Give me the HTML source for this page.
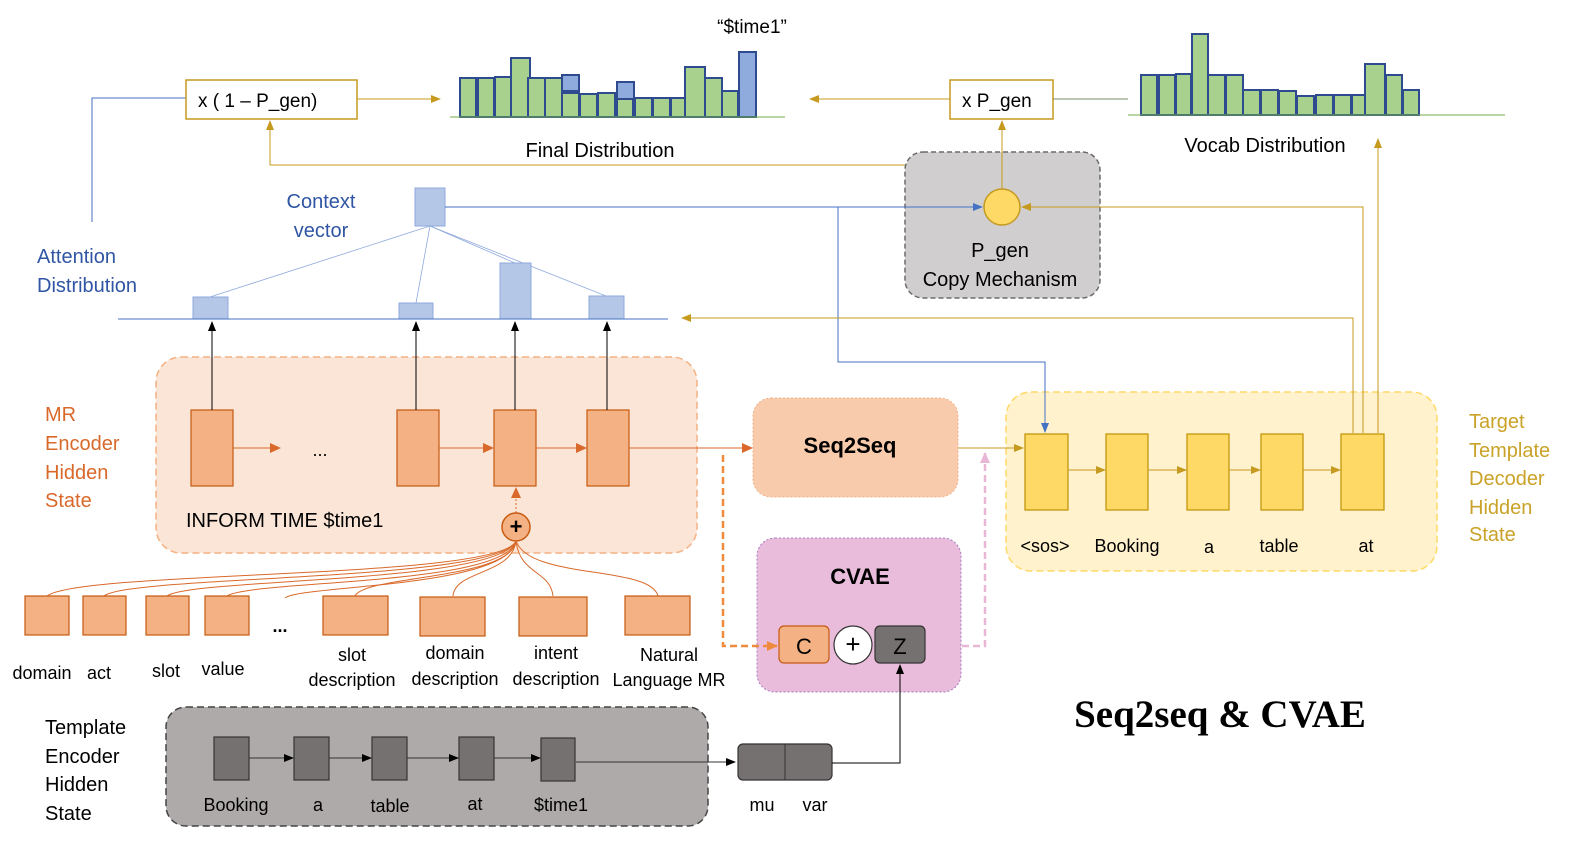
<!DOCTYPE html>
<html><head><meta charset="utf-8"><style>
body{margin:0;background:#fff}
svg{display:block;font-family:"Liberation Sans",sans-serif;font-size:18px}
</style></head><body>
<svg width="1570" height="841" viewBox="0 0 1570 841" xmlns="http://www.w3.org/2000/svg">
<defs>
<marker id="ag" markerWidth="10" markerHeight="10" refX="9" refY="5" orient="auto" markerUnits="userSpaceOnUse"><path d="M0,1 L10,5 L0,9z" fill="#c59a1f"/></marker>
<marker id="ab" markerWidth="10" markerHeight="10" refX="9" refY="5" orient="auto" markerUnits="userSpaceOnUse"><path d="M0,1 L10,5 L0,9z" fill="#4472c4"/></marker>
<marker id="ak" markerWidth="10" markerHeight="10" refX="9" refY="5" orient="auto" markerUnits="userSpaceOnUse"><path d="M0,1 L10,5 L0,9z" fill="#000"/></marker>
<marker id="ao" markerWidth="12" markerHeight="12" refX="10" refY="6" orient="auto" markerUnits="userSpaceOnUse"><path d="M0,1 L11,6 L0,11z" fill="#d9692a"/></marker>
<marker id="ap" markerWidth="12" markerHeight="12" refX="10" refY="6" orient="auto" markerUnits="userSpaceOnUse"><path d="M0,1 L11,6 L0,11z" fill="#e9b7d6"/></marker>
<marker id="ao2" markerWidth="12" markerHeight="12" refX="10" refY="6" orient="auto" markerUnits="userSpaceOnUse"><path d="M0,1 L11,6 L0,11z" fill="#f08a3c"/></marker>
</defs>

<!-- top boxes -->
<polyline points="92,222 92,98 186,98" fill="none" stroke="#4472c4" stroke-width="1"/>
<rect x="186" y="80" width="171" height="39" fill="#fff" stroke="#c59a1f" stroke-width="1.5"/>
<text x="198" y="107" font-size="19">x ( 1 – P_gen)</text>
<line x1="357" y1="99" x2="440" y2="99" stroke="#c59a1f" marker-end="url(#ag)"/>
<line x1="950" y1="99" x2="810" y2="99" stroke="#c59a1f" marker-end="url(#ag)"/>
<rect x="950" y="80" width="103" height="39" fill="#fff" stroke="#c59a1f" stroke-width="1.5"/>
<text x="962" y="107" font-size="19">x P_gen</text>
<line x1="1053" y1="99" x2="1128" y2="99" stroke="#7a8a6a"/>

<!-- final distribution -->
<g fill="#a9d18e" stroke="#2f4b8f" stroke-width="2">
<rect x="460" y="78" width="16" height="39"/><rect x="478" y="78" width="16" height="39"/><rect x="495" y="77" width="16" height="40"/><rect x="511" y="58" width="19" height="59"/><rect x="528" y="78" width="17" height="39"/><rect x="545" y="78" width="17" height="39"/>
<rect x="562" y="93" width="17" height="24"/><rect x="580" y="94" width="17" height="23"/><rect x="598" y="93" width="17" height="24"/><rect x="617" y="99" width="16" height="18"/><rect x="635" y="98" width="17" height="19"/><rect x="653" y="98" width="17" height="19"/><rect x="671" y="98" width="14" height="19"/><rect x="685" y="67" width="20" height="50"/><rect x="705" y="78" width="17" height="39"/><rect x="722" y="91" width="16" height="26"/>
</g>
<g fill="#8faadc" stroke="#2f4b8f" stroke-width="2">
<rect x="562" y="75" width="17" height="16"/><rect x="617" y="82" width="17" height="17"/><rect x="739" y="52" width="17" height="65"/>
</g>
<line x1="450" y1="117" x2="785" y2="117" stroke="#70ad47"/>
<text x="752" y="33" text-anchor="middle" font-size="19">“$time1”</text>
<text x="600" y="157" text-anchor="middle" font-size="20">Final Distribution</text>

<!-- vocab distribution -->
<g fill="#a9d18e" stroke="#2f4b8f" stroke-width="2">
<rect x="1141" y="75" width="16" height="40"/><rect x="1159" y="75" width="16" height="40"/><rect x="1176" y="74" width="15" height="41"/><rect x="1192" y="34" width="16" height="81"/><rect x="1208" y="75" width="17" height="40"/><rect x="1226" y="75" width="17" height="40"/><rect x="1243" y="90" width="17" height="25"/><rect x="1261" y="90" width="17" height="25"/><rect x="1279" y="91" width="17" height="24"/><rect x="1297" y="96" width="17" height="19"/><rect x="1316" y="95" width="17" height="20"/><rect x="1334" y="95" width="17" height="20"/><rect x="1352" y="95" width="13" height="20"/><rect x="1365" y="64" width="20" height="51"/><rect x="1386" y="75" width="16" height="40"/><rect x="1403" y="90" width="16" height="25"/>
</g>
<line x1="1128" y1="115" x2="1505" y2="115" stroke="#70ad47"/>
<text x="1265" y="152" text-anchor="middle" font-size="20">Vocab Distribution</text>

<!-- P_gen box -->
<rect x="905" y="152" width="195" height="146" rx="18" fill="#d0cece" stroke="#6b6b6b" stroke-width="1.5" stroke-dasharray="5,3"/>
<polyline points="905,165 270,165 270,121" fill="none" stroke="#c59a1f" marker-end="url(#ag)"/>
<line x1="1002" y1="189" x2="1002" y2="121" stroke="#c59a1f" marker-end="url(#ag)"/>
<circle cx="1002" cy="207" r="18" fill="#ffd966" stroke="#c59a1f" stroke-width="1.5"/>
<text x="1000" y="257" text-anchor="middle" font-size="20">P_gen</text>
<text x="1000" y="286" text-anchor="middle" font-size="20">Copy Mechanism</text>

<!-- decoder box (drawn before lines) -->
<rect x="1006" y="392" width="431" height="179" rx="25" fill="#fff2cc" stroke="#ffd966" stroke-width="1.5" stroke-dasharray="7,4"/>

<!-- context vector -->
<text x="321" y="208" text-anchor="middle" fill="#2f55a4" font-size="20">Context</text>
<text x="321" y="237" text-anchor="middle" fill="#2f55a4" font-size="20">vector</text>
<rect x="415" y="188" width="30" height="38" fill="#b4c7e7" stroke="#8faadc"/>
<line x1="445" y1="207" x2="982" y2="207" stroke="#4472c4" marker-end="url(#ab)"/>
<polyline points="838,207 838,362 1045,362 1045,432" fill="none" stroke="#4472c4" marker-end="url(#ab)"/>
<g stroke="#8faadc" stroke-width="0.8">
<line x1="430" y1="226" x2="210" y2="297"/><line x1="430" y1="226" x2="416" y2="303"/><line x1="430" y1="226" x2="515" y2="263"/><line x1="430" y1="226" x2="606" y2="296"/>
</g>
<text x="37" y="263" fill="#2f55a4" font-size="20">Attention</text>
<text x="37" y="292" fill="#2f55a4" font-size="20">Distribution</text>
<g fill="#b4c7e7" stroke="#8faadc">
<rect x="193" y="297" width="35" height="22"/><rect x="399" y="303" width="34" height="16"/><rect x="500" y="263" width="31" height="56"/><rect x="589" y="296" width="35" height="23"/>
</g>
<line x1="118" y1="319" x2="668" y2="319" stroke="#4472c4"/>

<!-- gold feedback lines -->
<polyline points="1353,433 1353,318 682,318" fill="none" stroke="#c59a1f" marker-end="url(#ag)"/>
<polyline points="1363,433 1363,207 1022,207" fill="none" stroke="#c59a1f" marker-end="url(#ag)"/>
<line x1="1378" y1="433" x2="1378" y2="139" stroke="#c59a1f" marker-end="url(#ag)"/>

<!-- MR encoder -->
<g fill="#d9692a" font-size="20">
<text x="45" y="421">MR</text>
<text x="45" y="450">Encoder</text>
<text x="45" y="479">Hidden</text>
<text x="45" y="507">State</text>
</g>
<rect x="156" y="357" width="541" height="196" rx="25" fill="#fbe5d6" stroke="#f4b183" stroke-width="1.5" stroke-dasharray="7,4"/>
<g fill="#f4b183" stroke="#c55a11" stroke-width="1.2">
<rect x="191" y="410" width="42" height="76"/><rect x="397" y="410" width="42" height="76"/><rect x="494" y="410" width="42" height="76"/><rect x="587" y="410" width="42" height="76"/>
</g>
<text x="320" y="456" text-anchor="middle">...</text>
<g stroke="#d9692a">
<line x1="233" y1="448" x2="280" y2="448" marker-end="url(#ao)"/>
<line x1="439" y1="448" x2="493" y2="448" marker-end="url(#ao)"/>
<line x1="536" y1="448" x2="586" y2="448" marker-end="url(#ao)"/>
<line x1="629" y1="448" x2="752" y2="448" marker-end="url(#ao)"/>
</g>
<g stroke="#000">
<line x1="212" y1="410" x2="212" y2="322" marker-end="url(#ak)"/>
<line x1="416" y1="410" x2="416" y2="322" marker-end="url(#ak)"/>
<line x1="515" y1="410" x2="515" y2="322" marker-end="url(#ak)"/>
<line x1="607" y1="410" x2="607" y2="322" marker-end="url(#ak)"/>
</g>
<text x="186" y="527" font-size="20">INFORM TIME $time1</text>
<line x1="516" y1="513" x2="516" y2="488" stroke="#d9692a" stroke-dasharray="2,2" marker-end="url(#ao)"/>
<circle cx="516" cy="527" r="14" fill="#f4b183" stroke="#c55a11" stroke-width="1.5"/>
<text x="516" y="534" text-anchor="middle" font-size="22" font-weight="bold">+</text>

<!-- curves -->
<g fill="none" stroke="#d9692a" stroke-width="1">
<path d="M516,541 C500,580 80,570 47,596"/>
<path d="M516,541 C500,582 130,575 104,596"/>
<path d="M516,541 C500,584 190,578 167,596"/>
<path d="M516,541 C505,586 250,580 227,596"/>
<path d="M516,541 C508,588 300,585 285,598"/>
<path d="M516,541 C510,580 365,575 355,596"/>
<path d="M516,541 C512,575 455,570 453,596"/>
<path d="M516,541 C520,575 550,570 553,596"/>
<path d="M516,541 C530,580 650,565 658,596"/>
</g>
<g fill="#f4b183" stroke="#c55a11" stroke-width="1.2">
<rect x="25" y="596" width="44" height="39"/><rect x="83" y="596" width="43" height="39"/><rect x="146" y="596" width="43" height="39"/><rect x="205" y="596" width="44" height="39"/>
<rect x="323" y="596" width="65" height="39"/><rect x="420" y="597" width="65" height="39"/><rect x="519" y="597" width="68" height="39"/><rect x="625" y="596" width="65" height="39"/>
</g>
<text x="280" y="632" text-anchor="middle" font-weight="bold">...</text>
<g text-anchor="middle" font-size="18">
<text x="42" y="679">domain</text><text x="99" y="679">act</text><text x="166" y="677">slot</text><text x="223" y="675">value</text>
<text x="352" y="661">slot</text><text x="352" y="686">description</text>
<text x="455" y="659">domain</text><text x="455" y="685">description</text>
<text x="556" y="659">intent</text><text x="556" y="685">description</text>
<text x="669" y="661">Natural</text><text x="669" y="686">Language MR</text>
</g>

<!-- Seq2Seq -->
<rect x="753" y="398" width="205" height="99" rx="18" fill="#f8cbad" stroke="#f4b183" stroke-dasharray="2,2"/>
<text x="850" y="453" text-anchor="middle" font-size="22" font-weight="bold">Seq2Seq</text>
<line x1="958" y1="448" x2="1023" y2="448" stroke="#c59a1f" marker-end="url(#ag)"/>

<!-- CVAE -->
<rect x="757" y="538" width="204" height="154" rx="18" fill="#eabcdb" stroke="#a77bbf" stroke-dasharray="2,2"/>
<text x="860" y="584" text-anchor="middle" font-size="22" font-weight="bold">CVAE</text>
<polyline points="723,455 723,646 777,646" fill="none" stroke="#f08a3c" stroke-width="2.5" stroke-dasharray="7,4" marker-end="url(#ao2)"/>
<polyline points="962,646 985,646 985,453" fill="none" stroke="#e9b7d6" stroke-width="2.5" stroke-dasharray="7,4" marker-end="url(#ap)"/>
<rect x="779" y="626" width="50" height="37" rx="5" fill="#f4b183" stroke="#c55a11" stroke-width="1.2"/>
<text x="804" y="654" text-anchor="middle" font-size="22">C</text>
<circle cx="853" cy="645" r="19" fill="#fff" stroke="#333" stroke-width="1.2"/>
<text x="853" y="653" text-anchor="middle" font-size="26">+</text>
<rect x="875" y="626" width="50" height="37" rx="5" fill="#767171" stroke="#333" stroke-width="1.2"/>
<text x="900" y="654" text-anchor="middle" font-size="22">Z</text>

<!-- decoder cells -->
<g fill="#ffd966" stroke="#bf9000" stroke-width="1.2">
<rect x="1025" y="434" width="43" height="76"/><rect x="1106" y="434" width="42" height="76"/><rect x="1187" y="434" width="42" height="76"/><rect x="1261" y="434" width="42" height="76"/><rect x="1341" y="434" width="43" height="76"/>
</g>
<g stroke="#c59a1f">
<line x1="1068" y1="470" x2="1105" y2="470" marker-end="url(#ag)"/>
<line x1="1148" y1="470" x2="1186" y2="470" marker-end="url(#ag)"/>
<line x1="1229" y1="470" x2="1260" y2="470" marker-end="url(#ag)"/>
<line x1="1303" y1="470" x2="1340" y2="470" marker-end="url(#ag)"/>
</g>
<g text-anchor="middle" font-size="18">
<text x="1045" y="552">&lt;sos&gt;</text><text x="1127" y="552">Booking</text><text x="1209" y="553">a</text><text x="1279" y="552">table</text><text x="1366" y="552">at</text>
</g>
<g fill="#c9a227" font-size="20">
<text x="1469" y="428">Target</text><text x="1469" y="457">Template</text><text x="1469" y="485">Decoder</text><text x="1469" y="514">Hidden</text><text x="1469" y="541">State</text>
</g>

<!-- template encoder -->
<g font-size="20">
<text x="45" y="734">Template</text><text x="45" y="763">Encoder</text><text x="45" y="791">Hidden</text><text x="45" y="820">State</text>
</g>
<rect x="166" y="707" width="542" height="119" rx="20" fill="#aeaaaa" stroke="#444" stroke-width="1.5" stroke-dasharray="7,4"/>
<g fill="#767171" stroke="#333" stroke-width="1.2">
<rect x="214" y="737" width="35" height="43"/><rect x="294" y="737" width="35" height="43"/><rect x="372" y="737" width="35" height="43"/><rect x="459" y="737" width="35" height="43"/><rect x="541" y="738" width="34" height="43"/>
</g>
<g stroke="#333">
<line x1="249" y1="758" x2="293" y2="758" marker-end="url(#ak)"/>
<line x1="329" y1="758" x2="371" y2="758" marker-end="url(#ak)"/>
<line x1="407" y1="758" x2="458" y2="758" marker-end="url(#ak)"/>
<line x1="494" y1="758" x2="540" y2="758" marker-end="url(#ak)"/>
<line x1="576" y1="762" x2="735" y2="762" marker-end="url(#ak)"/>
</g>
<g text-anchor="middle" font-size="18">
<text x="236" y="811">Booking</text><text x="318" y="811">a</text><text x="390" y="812">table</text><text x="475" y="810">at</text><text x="561" y="811">$time1</text>
<text x="762" y="811">mu</text><text x="815" y="811">var</text>
</g>
<rect x="738" y="744" width="94" height="36" rx="5" fill="#767171" stroke="#333" stroke-width="1.2"/>
<line x1="785" y1="744" x2="785" y2="780" stroke="#333"/>
<polyline points="832,763 900,763 900,665" fill="none" stroke="#000" marker-end="url(#ak)"/>

<text x="1220" y="727" text-anchor="middle" font-size="39" font-weight="bold" style="font-family:'Liberation Serif',serif">Seq2seq &amp; CVAE</text>
</svg>
</body></html>
